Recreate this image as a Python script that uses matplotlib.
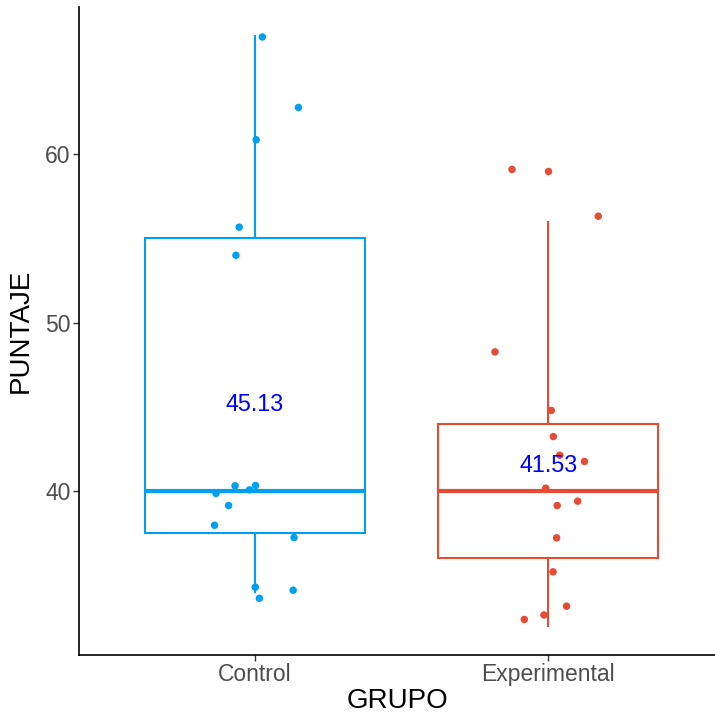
import numpy as np
import matplotlib
matplotlib.use("Agg")
import matplotlib.pyplot as plt

plt.rcParams['font.family'] = ['Liberation Sans', 'DejaVu Sans']

groups = ['Control', 'Experimental']
colors = ['#00A0F0', '#E64B35']

# scores per group
control = [67, 63, 61, 56, 54, 40, 40, 40, 40, 39, 38, 37, 34, 34, 34]
experimental = [59, 56, 48, 45, 43, 42, 42, 40, 39, 39, 37, 35, 33, 33, 32]

# jitter (x in category units, y in score units)
control_dx = [0.025, 0.148, 0.004, -0.054, -0.065, -0.133, -0.068, -0.019,
              0.002, -0.090, -0.138, 0.133, 0.001, 0.015, 0.130]
control_dy = [-0.03, -0.22, -0.14, -0.33, 0.0, -0.15, 0.30, 0.06,
              0.32, 0.13, -0.04, 0.23, 0.28, -0.38, 0.10]
exp_dx = [-0.124, 0.170, -0.182, 0.010, 0.017, 0.039, 0.123, -0.009,
          0.100, 0.030, 0.028, 0.016, 0.062, -0.015, -0.082]
exp_dy = [0.10, 0.32, 0.26, -0.22, 0.23, 0.12, -0.25, 0.16,
          0.39, 0.13, 0.21, 0.19, 0.15, -0.37, 0.36]

data = [control, experimental]
dxs = [control_dx, exp_dx]
dys = [control_dy, exp_dy]

fig = plt.figure(figsize=(7.15, 7.16), dpi=100)
ax = fig.add_axes([79 / 715, 1 - 655 / 716, 1 - 79 / 715, (655 - 7) / 716])

for i, (vals, col) in enumerate(zip(data, colors)):
    pos = i + 1
    ax.boxplot(vals, positions=[pos], widths=0.75, whis=1.5, showcaps=False,
               patch_artist=True,
               boxprops=dict(facecolor='white', edgecolor=col, linewidth=1.5),
               whiskerprops=dict(color=col, linewidth=1.5),
               medianprops=dict(color=col, linewidth=3),
               flierprops=dict(marker='o', markerfacecolor=col, markeredgewidth=0,
                               markersize=5.4),
               zorder=1)
    xs = pos + np.array(dxs[i])
    ys = np.array(vals) + np.array(dys[i])
    ax.scatter(xs, ys, s=29, color=col, edgecolors='none', zorder=3)
    m = np.mean(vals)
    ax.text(pos, m, f'{m:.2f}', color='#0000FF', fontsize=16.8,
            ha='center', va='center', zorder=4)

ax.set_xlim(0.4, 2.568)
ax.set_ylim(30.25, 68.75)
ax.set_xticks([1, 2])
ax.set_xticklabels(groups)
ax.set_yticks([40, 50, 60])

for s in ['top', 'right']:
    ax.spines[s].set_visible(False)
for s in ['left', 'bottom']:
    ax.spines[s].set_linewidth(1.2)
    ax.spines[s].set_color('black')

ax.tick_params(axis='both', length=4, width=1, color='#333333',
               labelsize=16.5, labelcolor='#4D4D4D', pad=2)
ax.set_xlabel('GRUPO', fontsize=20, labelpad=1)
ax.set_ylabel('PUNTAJE', fontsize=20, labelpad=8)

fig.savefig('out.png', dpi=100)
